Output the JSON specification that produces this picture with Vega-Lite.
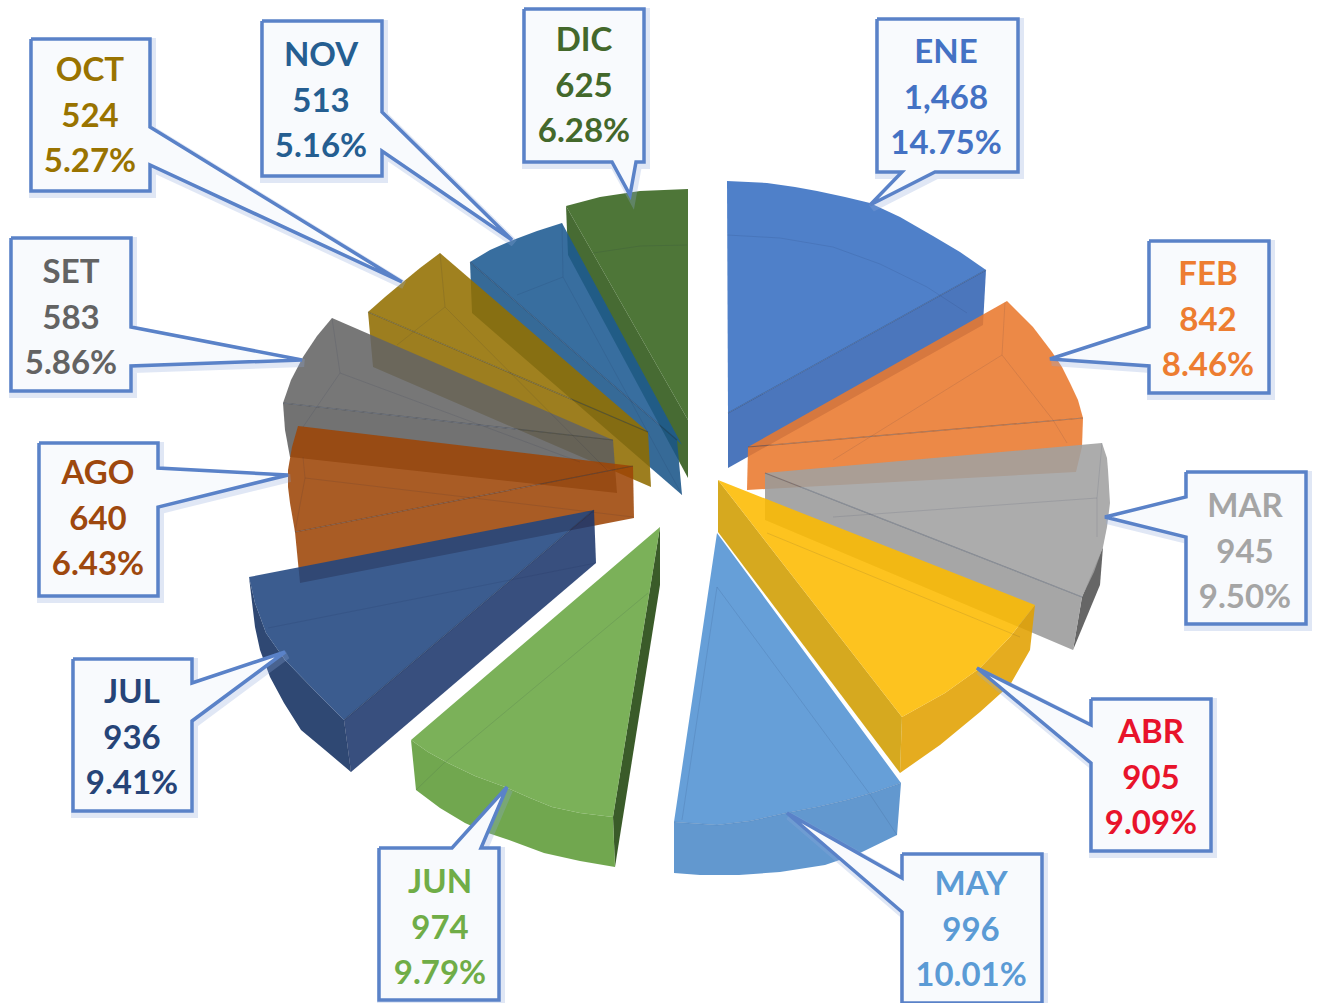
{"$schema":"https://vega.github.io/schema/vega-lite/v6.json","width":1319,"height":1003,"padding":0,"autosize":{"type":"none"},"background":"white","config":{"view":{"stroke":null}},
"datasets":{
"caras":[
{"c":"DIC-lado","i":1,"x":566,"y":206},{"c":"DIC-lado","i":2,"x":688,"y":420},{"c":"DIC-lado","i":3,"x":688,"y":478},{"c":"DIC-lado","i":4,"x":568,"y":255},
{"c":"DIC-tapa","i":1,"x":566,"y":206},{"c":"DIC-tapa","i":2,"x":600,"y":197},{"c":"DIC-tapa","i":3,"x":640,"y":191},{"c":"DIC-tapa","i":4,"x":688,"y":189},{"c":"DIC-tapa","i":5,"x":688,"y":420},
{"c":"NOV-lado","i":1,"x":470,"y":262},{"c":"NOV-lado","i":2,"x":677,"y":440},{"c":"NOV-lado","i":3,"x":682,"y":495},{"c":"NOV-lado","i":4,"x":472,"y":313},
{"c":"NOV-tapa","i":1,"x":470,"y":262},{"c":"NOV-tapa","i":2,"x":490,"y":250},{"c":"NOV-tapa","i":3,"x":513,"y":240},{"c":"NOV-tapa","i":4,"x":537,"y":231},{"c":"NOV-tapa","i":5,"x":562,"y":223},{"c":"NOV-tapa","i":6,"x":682,"y":445},{"c":"NOV-tapa","i":7,"x":677,"y":440},
{"c":"OCT-lado","i":1,"x":368,"y":312},{"c":"OCT-lado","i":2,"x":648,"y":432},{"c":"OCT-lado","i":3,"x":651,"y":487},{"c":"OCT-lado","i":4,"x":373,"y":367},
{"c":"OCT-tapa","i":1,"x":368,"y":312},{"c":"OCT-tapa","i":2,"x":385,"y":297},{"c":"OCT-tapa","i":3,"x":403,"y":282},{"c":"OCT-tapa","i":4,"x":420,"y":268},{"c":"OCT-tapa","i":5,"x":440,"y":253},{"c":"OCT-tapa","i":6,"x":648,"y":432},
{"c":"SET-lado","i":1,"x":283,"y":403},{"c":"SET-lado","i":2,"x":613,"y":440},{"c":"SET-lado","i":3,"x":617,"y":493},{"c":"SET-lado","i":4,"x":290,"y":457},{"c":"SET-lado","i":5,"x":285,"y":430},
{"c":"SET-tapa","i":1,"x":283,"y":403},{"c":"SET-tapa","i":2,"x":291,"y":380},{"c":"SET-tapa","i":3,"x":303,"y":357},{"c":"SET-tapa","i":4,"x":317,"y":336},{"c":"SET-tapa","i":5,"x":332,"y":318},{"c":"SET-tapa","i":6,"x":613,"y":440},
{"c":"AGO-lado","i":1,"x":295,"y":532},{"c":"AGO-lado","i":2,"x":633,"y":466},{"c":"AGO-lado","i":3,"x":634,"y":518},{"c":"AGO-lado","i":4,"x":300,"y":583},
{"c":"AGO-tapa","i":1,"x":298,"y":426},{"c":"AGO-tapa","i":2,"x":633,"y":466},{"c":"AGO-tapa","i":3,"x":295,"y":532},{"c":"AGO-tapa","i":4,"x":290,"y":503},{"c":"AGO-tapa","i":5,"x":288,"y":487},{"c":"AGO-tapa","i":6,"x":288,"y":470},{"c":"AGO-tapa","i":7,"x":292,"y":447},
{"c":"JUL-lateral","i":1,"x":249,"y":577},{"c":"JUL-lateral","i":2,"x":255,"y":603},{"c":"JUL-lateral","i":3,"x":266,"y":633},{"c":"JUL-lateral","i":4,"x":285,"y":660},{"c":"JUL-lateral","i":5,"x":314,"y":690},{"c":"JUL-lateral","i":6,"x":344,"y":720},{"c":"JUL-lateral","i":7,"x":351,"y":772},{"c":"JUL-lateral","i":8,"x":325,"y":750},{"c":"JUL-lateral","i":9,"x":301,"y":730},{"c":"JUL-lateral","i":10,"x":284,"y":703},{"c":"JUL-lateral","i":11,"x":270,"y":677},{"c":"JUL-lateral","i":12,"x":260,"y":650},{"c":"JUL-lateral","i":13,"x":255,"y":627},
{"c":"JUL-lado","i":1,"x":344,"y":720},{"c":"JUL-lado","i":2,"x":594,"y":510},{"c":"JUL-lado","i":3,"x":596,"y":563},{"c":"JUL-lado","i":4,"x":351,"y":772},
{"c":"JUL-tapa","i":1,"x":249,"y":577},{"c":"JUL-tapa","i":2,"x":594,"y":510},{"c":"JUL-tapa","i":3,"x":344,"y":720},{"c":"JUL-tapa","i":4,"x":314,"y":690},{"c":"JUL-tapa","i":5,"x":285,"y":660},{"c":"JUL-tapa","i":6,"x":266,"y":633},{"c":"JUL-tapa","i":7,"x":255,"y":603},
{"c":"JUN-oscuro","i":1,"x":660,"y":527},{"c":"JUN-oscuro","i":2,"x":660,"y":585},{"c":"JUN-oscuro","i":3,"x":615,"y":867},{"c":"JUN-oscuro","i":4,"x":613,"y":817},
{"c":"JUN-lado","i":1,"x":411,"y":740},{"c":"JUN-lado","i":2,"x":428,"y":752},{"c":"JUN-lado","i":3,"x":448,"y":763},{"c":"JUN-lado","i":4,"x":475,"y":776},{"c":"JUN-lado","i":5,"x":505,"y":787},{"c":"JUN-lado","i":6,"x":530,"y":798},{"c":"JUN-lado","i":7,"x":552,"y":807},{"c":"JUN-lado","i":8,"x":580,"y":813},{"c":"JUN-lado","i":9,"x":613,"y":817},{"c":"JUN-lado","i":10,"x":615,"y":867},{"c":"JUN-lado","i":11,"x":580,"y":861},{"c":"JUN-lado","i":12,"x":544,"y":853},{"c":"JUN-lado","i":13,"x":509,"y":840},{"c":"JUN-lado","i":14,"x":485,"y":832},{"c":"JUN-lado","i":15,"x":465,"y":823},{"c":"JUN-lado","i":16,"x":440,"y":808},{"c":"JUN-lado","i":17,"x":416,"y":790},
{"c":"JUN-tapa","i":1,"x":660,"y":527},{"c":"JUN-tapa","i":2,"x":613,"y":817},{"c":"JUN-tapa","i":3,"x":580,"y":813},{"c":"JUN-tapa","i":4,"x":552,"y":807},{"c":"JUN-tapa","i":5,"x":530,"y":798},{"c":"JUN-tapa","i":6,"x":505,"y":787},{"c":"JUN-tapa","i":7,"x":475,"y":776},{"c":"JUN-tapa","i":8,"x":448,"y":763},{"c":"JUN-tapa","i":9,"x":428,"y":752},{"c":"JUN-tapa","i":10,"x":411,"y":740},
{"c":"ENE-lado","i":1,"x":986,"y":270},{"c":"ENE-lado","i":2,"x":983,"y":325},{"c":"ENE-lado","i":3,"x":728,"y":468},{"c":"ENE-lado","i":4,"x":728,"y":413},
{"c":"ENE-tapa","i":1,"x":727,"y":181},{"c":"ENE-tapa","i":2,"x":767,"y":183},{"c":"ENE-tapa","i":3,"x":795,"y":187},{"c":"ENE-tapa","i":4,"x":817,"y":191},{"c":"ENE-tapa","i":5,"x":845,"y":197},{"c":"ENE-tapa","i":6,"x":870,"y":203},{"c":"ENE-tapa","i":7,"x":900,"y":217},{"c":"ENE-tapa","i":8,"x":933,"y":236},{"c":"ENE-tapa","i":9,"x":960,"y":252},{"c":"ENE-tapa","i":10,"x":986,"y":270},{"c":"ENE-tapa","i":11,"x":728,"y":413},
{"c":"FEB-lado","i":1,"x":748,"y":447},{"c":"FEB-lado","i":2,"x":1083,"y":418},{"c":"FEB-lado","i":3,"x":1082,"y":447},{"c":"FEB-lado","i":4,"x":1076,"y":472},{"c":"FEB-lado","i":5,"x":747,"y":490},
{"c":"FEB-tapa","i":1,"x":748,"y":447},{"c":"FEB-tapa","i":2,"x":1007,"y":301},{"c":"FEB-tapa","i":3,"x":1020,"y":314},{"c":"FEB-tapa","i":4,"x":1033,"y":327},{"c":"FEB-tapa","i":5,"x":1052,"y":352},{"c":"FEB-tapa","i":6,"x":1062,"y":367},{"c":"FEB-tapa","i":7,"x":1070,"y":383},{"c":"FEB-tapa","i":8,"x":1078,"y":400},{"c":"FEB-tapa","i":9,"x":1083,"y":418},
{"c":"MAR-oscuro","i":1,"x":1082,"y":597},{"c":"MAR-oscuro","i":2,"x":1103,"y":547},{"c":"MAR-oscuro","i":3,"x":1100,"y":585},{"c":"MAR-oscuro","i":4,"x":1073,"y":650},
{"c":"MAR-lado","i":1,"x":765,"y":473},{"c":"MAR-lado","i":2,"x":1082,"y":597},{"c":"MAR-lado","i":3,"x":1073,"y":650},{"c":"MAR-lado","i":4,"x":1033,"y":633},{"c":"MAR-lado","i":5,"x":765,"y":520},
{"c":"MAR-tapa","i":1,"x":765,"y":473},{"c":"MAR-tapa","i":2,"x":1102,"y":443},{"c":"MAR-tapa","i":3,"x":1107,"y":458},{"c":"MAR-tapa","i":4,"x":1108,"y":470},{"c":"MAR-tapa","i":5,"x":1110,"y":503},{"c":"MAR-tapa","i":6,"x":1107,"y":527},{"c":"MAR-tapa","i":7,"x":1103,"y":547},{"c":"MAR-tapa","i":8,"x":1094,"y":572},{"c":"MAR-tapa","i":9,"x":1082,"y":597},
{"c":"ABR-muro","i":1,"x":902,"y":717},{"c":"ABR-muro","i":2,"x":945,"y":693},{"c":"ABR-muro","i":3,"x":980,"y":668},{"c":"ABR-muro","i":4,"x":1010,"y":637},{"c":"ABR-muro","i":5,"x":1035,"y":605},{"c":"ABR-muro","i":6,"x":1030,"y":650},{"c":"ABR-muro","i":7,"x":1010,"y":685},{"c":"ABR-muro","i":8,"x":980,"y":712},{"c":"ABR-muro","i":9,"x":940,"y":745},{"c":"ABR-muro","i":10,"x":900,"y":773},
{"c":"ABR-lado","i":1,"x":718,"y":480},{"c":"ABR-lado","i":2,"x":902,"y":717},{"c":"ABR-lado","i":3,"x":900,"y":773},{"c":"ABR-lado","i":4,"x":718,"y":532},
{"c":"ABR-tapa","i":1,"x":718,"y":480},{"c":"ABR-tapa","i":2,"x":1035,"y":605},{"c":"ABR-tapa","i":3,"x":1010,"y":637},{"c":"ABR-tapa","i":4,"x":980,"y":668},{"c":"ABR-tapa","i":5,"x":945,"y":693},{"c":"ABR-tapa","i":6,"x":902,"y":717},
{"c":"MAY-lado","i":1,"x":901,"y":783},{"c":"MAY-lado","i":2,"x":897,"y":835},{"c":"MAY-lado","i":3,"x":860,"y":853},{"c":"MAY-lado","i":4,"x":825,"y":865},{"c":"MAY-lado","i":5,"x":780,"y":872},{"c":"MAY-lado","i":6,"x":739,"y":875},{"c":"MAY-lado","i":7,"x":700,"y":875},{"c":"MAY-lado","i":8,"x":674,"y":873},{"c":"MAY-lado","i":9,"x":674,"y":822},{"c":"MAY-lado","i":10,"x":717,"y":825},{"c":"MAY-lado","i":11,"x":750,"y":821},{"c":"MAY-lado","i":12,"x":786,"y":813},{"c":"MAY-lado","i":13,"x":817,"y":807},{"c":"MAY-lado","i":14,"x":847,"y":800},{"c":"MAY-lado","i":15,"x":875,"y":792},
{"c":"MAY-tapa","i":1,"x":717,"y":533},{"c":"MAY-tapa","i":2,"x":901,"y":783},{"c":"MAY-tapa","i":3,"x":875,"y":792},{"c":"MAY-tapa","i":4,"x":847,"y":800},{"c":"MAY-tapa","i":5,"x":817,"y":807},{"c":"MAY-tapa","i":6,"x":786,"y":813},{"c":"MAY-tapa","i":7,"x":750,"y":821},{"c":"MAY-tapa","i":8,"x":717,"y":825},{"c":"MAY-tapa","i":9,"x":674,"y":822}
],
"fuertes":[
{"c":"a1","i":1,"x":728,"y":413},{"c":"a1","i":2,"x":986,"y":270},
{"c":"a2","i":1,"x":748,"y":447},{"c":"a2","i":2,"x":1083,"y":418},
{"c":"a3","i":1,"x":765,"y":473},{"c":"a3","i":2,"x":1082,"y":597},
{"c":"a4","i":1,"x":344,"y":720},{"c":"a4","i":2,"x":594,"y":510},
{"c":"a5","i":1,"x":295,"y":532},{"c":"a5","i":2,"x":633,"y":466},
{"c":"a6","i":1,"x":283,"y":403},{"c":"a6","i":2,"x":613,"y":440},
{"c":"a7","i":1,"x":368,"y":312},{"c":"a7","i":2,"x":648,"y":432},
{"c":"a8","i":1,"x":470,"y":262},{"c":"a8","i":2,"x":677,"y":440}
],
"suaves":[
{"c":"b1","i":1,"x":727,"y":235},{"c":"b1","i":2,"x":780,"y":238},{"c":"b1","i":3,"x":833,"y":247},{"c":"b1","i":4,"x":880,"y":264},{"c":"b1","i":5,"x":927,"y":287},{"c":"b1","i":6,"x":967,"y":313},
{"c":"b2","i":1,"x":1005,"y":302},{"c":"b2","i":2,"x":1002,"y":355},{"c":"b2","i":3,"x":833,"y":460},
{"c":"b3","i":1,"x":1002,"y":355},{"c":"b3","i":2,"x":1053,"y":420},{"c":"b3","i":3,"x":1067,"y":443},
{"c":"b4","i":1,"x":833,"y":517},{"c":"b4","i":2,"x":1097,"y":498},{"c":"b4","i":3,"x":1102,"y":443},
{"c":"b5","i":1,"x":1097,"y":498},{"c":"b5","i":2,"x":1097,"y":537},
{"c":"b6","i":1,"x":767,"y":533},{"c":"b6","i":2,"x":1020,"y":637},
{"c":"b7","i":1,"x":674,"y":822},{"c":"b7","i":2,"x":717,"y":825},{"c":"b7","i":3,"x":750,"y":821},{"c":"b7","i":4,"x":786,"y":813},{"c":"b7","i":5,"x":817,"y":807},{"c":"b7","i":6,"x":847,"y":800},{"c":"b7","i":7,"x":875,"y":792},{"c":"b7","i":8,"x":901,"y":783},
{"c":"b8","i":1,"x":717,"y":587},{"c":"b8","i":2,"x":869,"y":793},{"c":"b8","i":3,"x":897,"y":835},
{"c":"b9","i":1,"x":717,"y":587},{"c":"b9","i":2,"x":682,"y":820},
{"c":"b10","i":1,"x":648,"y":593},{"c":"b10","i":2,"x":444,"y":763},{"c":"b10","i":3,"x":416,"y":790},
{"c":"b11","i":1,"x":268,"y":628},{"c":"b11","i":2,"x":596,"y":563},
{"c":"b12","i":1,"x":344,"y":720},{"c":"b12","i":2,"x":351,"y":772},
{"c":"b13","i":1,"x":303,"y":457},{"c":"b13","i":2,"x":305,"y":478},{"c":"b13","i":3,"x":295,"y":532},
{"c":"b14","i":1,"x":305,"y":478},{"c":"b14","i":2,"x":633,"y":517},
{"c":"b15","i":1,"x":332,"y":318},{"c":"b15","i":2,"x":340,"y":373},{"c":"b15","i":3,"x":303,"y":427},
{"c":"b16","i":1,"x":340,"y":373},{"c":"b16","i":2,"x":580,"y":462},
{"c":"b17","i":1,"x":440,"y":253},{"c":"b17","i":2,"x":445,"y":307},{"c":"b17","i":3,"x":397,"y":345},
{"c":"b18","i":1,"x":445,"y":307},{"c":"b18","i":2,"x":607,"y":470},
{"c":"b19","i":1,"x":562,"y":223},{"c":"b19","i":2,"x":563,"y":277},{"c":"b19","i":3,"x":517,"y":295},
{"c":"b20","i":1,"x":563,"y":277},{"c":"b20","i":2,"x":682,"y":495},
{"c":"b21","i":1,"x":593,"y":253},{"c":"b21","i":2,"x":640,"y":246},{"c":"b21","i":3,"x":687,"y":245}
],
"globos":[
{"m":"ENE","i":1,"x":877,"y":19},{"m":"ENE","i":2,"x":1018,"y":19},{"m":"ENE","i":3,"x":1018,"y":172},{"m":"ENE","i":4,"x":935,"y":172},{"m":"ENE","i":5,"x":870,"y":205},{"m":"ENE","i":6,"x":902,"y":172},{"m":"ENE","i":7,"x":877,"y":172},{"m":"ENE","i":8,"x":877,"y":19},
{"m":"FEB","i":1,"x":1149,"y":241},{"m":"FEB","i":2,"x":1269,"y":241},{"m":"FEB","i":3,"x":1269,"y":393},{"m":"FEB","i":4,"x":1149,"y":393},{"m":"FEB","i":5,"x":1149,"y":366},{"m":"FEB","i":6,"x":1050,"y":359},{"m":"FEB","i":7,"x":1149,"y":327},{"m":"FEB","i":8,"x":1149,"y":241},
{"m":"MAR","i":1,"x":1186,"y":472},{"m":"MAR","i":2,"x":1306,"y":472},{"m":"MAR","i":3,"x":1306,"y":624},{"m":"MAR","i":4,"x":1186,"y":624},{"m":"MAR","i":5,"x":1186,"y":537},{"m":"MAR","i":6,"x":1105,"y":517},{"m":"MAR","i":7,"x":1186,"y":497},{"m":"MAR","i":8,"x":1186,"y":472},
{"m":"ABR","i":1,"x":1091,"y":699},{"m":"ABR","i":2,"x":1211,"y":699},{"m":"ABR","i":3,"x":1211,"y":851},{"m":"ABR","i":4,"x":1091,"y":851},{"m":"ABR","i":5,"x":1091,"y":763},{"m":"ABR","i":6,"x":977,"y":668},{"m":"ABR","i":7,"x":1091,"y":725},{"m":"ABR","i":8,"x":1091,"y":699},
{"m":"MAY","i":1,"x":902,"y":854},{"m":"MAY","i":2,"x":1042,"y":854},{"m":"MAY","i":3,"x":1042,"y":1003},{"m":"MAY","i":4,"x":902,"y":1003},{"m":"MAY","i":5,"x":902,"y":912},{"m":"MAY","i":6,"x":787,"y":813},{"m":"MAY","i":7,"x":902,"y":878},{"m":"MAY","i":8,"x":902,"y":854},
{"m":"JUN","i":1,"x":379,"y":848},{"m":"JUN","i":2,"x":452,"y":848},{"m":"JUN","i":3,"x":507,"y":787},{"m":"JUN","i":4,"x":481,"y":848},{"m":"JUN","i":5,"x":499,"y":848},{"m":"JUN","i":6,"x":499,"y":1000},{"m":"JUN","i":7,"x":379,"y":1000},{"m":"JUN","i":8,"x":379,"y":848},
{"m":"JUL","i":1,"x":73,"y":659},{"m":"JUL","i":2,"x":192,"y":659},{"m":"JUL","i":3,"x":192,"y":683},{"m":"JUL","i":4,"x":285,"y":652},{"m":"JUL","i":5,"x":192,"y":721},{"m":"JUL","i":6,"x":192,"y":811},{"m":"JUL","i":7,"x":73,"y":811},{"m":"JUL","i":8,"x":73,"y":659},
{"m":"AGO","i":1,"x":39,"y":443},{"m":"AGO","i":2,"x":158,"y":443},{"m":"AGO","i":3,"x":158,"y":468},{"m":"AGO","i":4,"x":288,"y":475},{"m":"AGO","i":5,"x":158,"y":507},{"m":"AGO","i":6,"x":158,"y":596},{"m":"AGO","i":7,"x":39,"y":596},{"m":"AGO","i":8,"x":39,"y":443},
{"m":"SET","i":1,"x":11,"y":238},{"m":"SET","i":2,"x":131,"y":238},{"m":"SET","i":3,"x":131,"y":327},{"m":"SET","i":4,"x":302,"y":360},{"m":"SET","i":5,"x":131,"y":366},{"m":"SET","i":6,"x":131,"y":391},{"m":"SET","i":7,"x":11,"y":391},{"m":"SET","i":8,"x":11,"y":238},
{"m":"OCT","i":1,"x":31,"y":39},{"m":"OCT","i":2,"x":150,"y":39},{"m":"OCT","i":3,"x":150,"y":127},{"m":"OCT","i":4,"x":402,"y":282},{"m":"OCT","i":5,"x":150,"y":165},{"m":"OCT","i":6,"x":150,"y":191},{"m":"OCT","i":7,"x":31,"y":191},{"m":"OCT","i":8,"x":31,"y":39},
{"m":"NOV","i":1,"x":262,"y":21},{"m":"NOV","i":2,"x":382,"y":21},{"m":"NOV","i":3,"x":382,"y":112},{"m":"NOV","i":4,"x":512,"y":240},{"m":"NOV","i":5,"x":382,"y":151},{"m":"NOV","i":6,"x":382,"y":176},{"m":"NOV","i":7,"x":262,"y":176},{"m":"NOV","i":8,"x":262,"y":21},
{"m":"DIC","i":1,"x":524,"y":9},{"m":"DIC","i":2,"x":644,"y":9},{"m":"DIC","i":3,"x":644,"y":162},{"m":"DIC","i":4,"x":636,"y":162},{"m":"DIC","i":5,"x":630,"y":195},{"m":"DIC","i":6,"x":612,"y":162},{"m":"DIC","i":7,"x":524,"y":162},{"m":"DIC","i":8,"x":524,"y":9}
],
"meses":[
{"mes":"ENE","valor":1468,"pct":14.75,"texto":["ENE","1,468","14.75%"],"x":946,"y":53},
{"mes":"FEB","valor":842,"pct":8.46,"texto":["FEB","842","8.46%"],"x":1208,"y":275},
{"mes":"MAR","valor":945,"pct":9.5,"texto":["MAR","945","9.50%"],"x":1245,"y":507},
{"mes":"ABR","valor":905,"pct":9.09,"texto":["ABR","905","9.09%"],"x":1151,"y":733},
{"mes":"MAY","valor":996,"pct":10.01,"texto":["MAY","996","10.01%"],"x":971,"y":885},
{"mes":"JUN","valor":974,"pct":9.79,"texto":["JUN","974","9.79%"],"x":440,"y":883},
{"mes":"JUL","valor":936,"pct":9.41,"texto":["JUL","936","9.41%"],"x":132,"y":693},
{"mes":"AGO","valor":640,"pct":6.43,"texto":["AGO","640","6.43%"],"x":98,"y":474},
{"mes":"SET","valor":583,"pct":5.86,"texto":["SET","583","5.86%"],"x":71,"y":273},
{"mes":"OCT","valor":524,"pct":5.27,"texto":["OCT","524","5.27%"],"x":90,"y":71},
{"mes":"NOV","valor":513,"pct":5.16,"texto":["NOV","513","5.16%"],"x":321,"y":56},
{"mes":"DIC","valor":625,"pct":6.28,"texto":["DIC","625","6.28%"],"x":584,"y":41}
]},
"encoding":{"x":{"field":"x","type":"quantitative","scale":{"domain":[0,1319],"nice":false,"zero":false},"axis":null},"y":{"field":"y","type":"quantitative","scale":{"domain":[1003,0],"nice":false,"zero":false},"axis":null}},
"layer":[
{"data":{"name":"caras"},"mark":{"type":"line","opacity":0.88,"strokeWidth":0,"interpolate":"linear"},"encoding":{"order":{"field":"i","type":"quantitative"},"detail":{"field":"c"},"fill":{"field":"c","type":"nominal","legend":null,"scale":{"domain":["DIC-lado","DIC-tapa","NOV-lado","NOV-tapa","OCT-lado","OCT-tapa","SET-lado","SET-tapa","AGO-lado","AGO-tapa","JUL-lateral","JUL-lado","JUL-tapa","JUN-oscuro","JUN-lado","JUN-tapa","ENE-lado","ENE-tapa","FEB-lado","FEB-tapa","MAR-oscuro","MAR-lado","MAR-tapa","ABR-muro","ABR-lado","ABR-tapa","MAY-lado","MAY-tapa"],"range":["#2E5717","#36631D","#1A5589","#1C5A92","#8F6C00","#937000","#5E5E5E","#646464","#9D4507","#9D4507","#122F60","#1C376C","#20467F","#1F440B","#5D9B37","#69A642","#3263B3","#376EC2","#E9792D","#E9792D","#515151","#9A9A9A","#A1A1A1","#E1A100","#D09D00","#FDBB00","#4C8AC8","#5192D3"]}}}},
{"data":{"name":"suaves"},"mark":{"type":"line","stroke":"#102040","strokeWidth":1,"opacity":0.1},"encoding":{"order":{"field":"i","type":"quantitative"},"detail":{"field":"c"}}},
{"data":{"name":"fuertes"},"mark":{"type":"line","stroke":"#102040","strokeWidth":1.2,"opacity":0.3},"encoding":{"order":{"field":"i","type":"quantitative"},"detail":{"field":"c"}}},
{"data":{"name":"globos"},"mark":{"type":"line","stroke":"#8FA8DA","strokeWidth":8,"opacity":0.28,"xOffset":2,"yOffset":3,"strokeJoin":"miter"},"encoding":{"order":{"field":"i","type":"quantitative"},"detail":{"field":"m"}}},
{"data":{"name":"globos"},"mark":{"type":"line","stroke":"#5A82C8","strokeWidth":3.5,"fill":"#F8FAFD","strokeJoin":"miter"},"encoding":{"order":{"field":"i","type":"quantitative"},"detail":{"field":"m"}}},
{"data":{"name":"meses"},"mark":{"type":"text","font":"Lato","fontWeight":"bold","fontSize":33,"lineHeight":45.5,"align":"center","baseline":"middle"},"encoding":{"text":{"field":"texto"},"color":{"field":"mes","type":"nominal","legend":null,"scale":{"domain":["ENE","FEB","MAR","ABR","MAY","JUN","JUL","AGO","SET","OCT","NOV","DIC"],"range":["#4472C4","#ED7D31","#A5A5A5","#E8132B","#5B9BD5","#70AD47","#264478","#9E480E","#636363","#997300","#255E91","#43682B"]}}}}
]}
